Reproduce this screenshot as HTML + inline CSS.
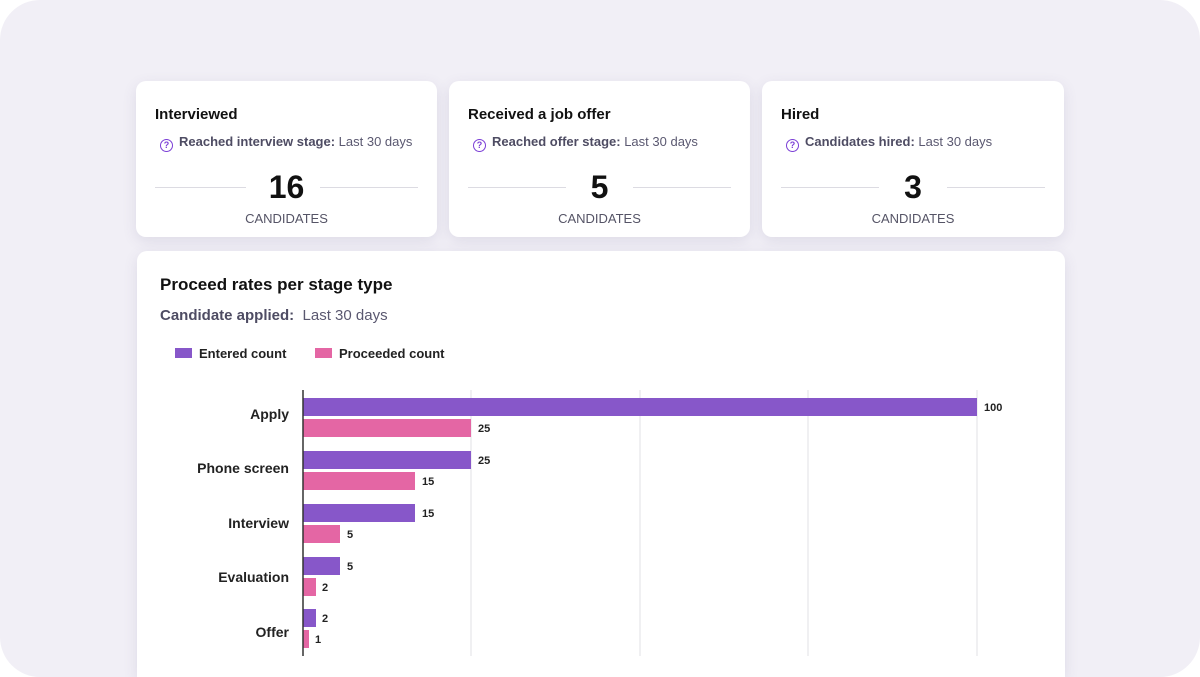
<!DOCTYPE html><html><head><style>
html,body{margin:0;width:1200px;height:677px;overflow:hidden}
body{background:#fff;font-family:"Liberation Sans",sans-serif}
.bg{position:absolute;left:0;top:0;width:1200px;height:677px;background:#f1eff6;border-radius:40px;overflow:hidden}
.card{position:absolute;background:#fff;border-radius:10px;box-shadow:0 4px 14px rgba(80,70,120,0.12)}
.t{position:absolute;left:19px;top:25px;font-size:15px;font-weight:bold;color:#111}
.s{position:absolute;left:24px;top:53px;font-size:13px;color:#5a5870;white-space:nowrap}
.s b{color:#4e4c63}
.q{display:inline-block;width:11px;height:11px;border:1.6px solid #7b3fd6;border-radius:50%;font-size:9px;line-height:11px;text-align:center;color:#7b3fd6;font-weight:bold;margin-right:6px;vertical-align:-2px}
.n{position:absolute;left:0;width:100%;top:88px;text-align:center;font-size:32px;font-weight:bold;color:#111}
.c{position:absolute;left:0;width:100%;top:130px;text-align:center;font-size:13px;color:#555466}
.l1,.l2{position:absolute;top:106px;height:1px;background:#dcdbe2;width:91px}
.l1{left:19px}.l2{right:19px;width:98px}
</style></head><body><div class="bg">
<div class="card" style="left:136px;top:81px;width:301px;height:156px"><div class="t">Interviewed</div><div class="s"><span class="q">?</span><b>Reached interview stage:</b> Last 30 days</div><div class="l1"></div><div class="l2"></div><div class="n">16</div><div class="c">CANDIDATES</div></div>
<div class="card" style="left:449px;top:81px;width:301px;height:156px"><div class="t">Received a job offer</div><div class="s"><span class="q">?</span><b>Reached offer stage:</b> Last 30 days</div><div class="l1" style="width:98px"></div><div class="l2"></div><div class="n">5</div><div class="c">CANDIDATES</div></div>
<div class="card" style="left:762px;top:81px;width:302px;height:156px"><div class="t">Hired</div><div class="s"><span class="q">?</span><b>Candidates hired:</b> Last 30 days</div><div class="l1" style="width:98px"></div><div class="l2"></div><div class="n">3</div><div class="c">CANDIDATES</div></div>
<div class="card" style="left:137px;top:251px;width:928px;height:426px;border-radius:10px 10px 0 0">
<div style="position:absolute;left:23px;top:24px;font-size:17px;font-weight:bold;color:#111">Proceed rates per stage type</div>
<div style="position:absolute;left:23px;top:56px;font-size:15px;color:#5a5870"><b style="color:#4e4c63">Candidate applied:</b>&nbsp; Last 30 days</div>
</div>
<svg style="position:absolute;left:0;top:0" width="1200" height="677" font-family="Liberation Sans, sans-serif">
<rect x="175" y="348" width="17" height="10" fill="#8757c9"/><text x="199" y="358" font-size="13" font-weight="bold" fill="#222">Entered count</text>
<rect x="315" y="348" width="17" height="10" fill="#e466a4"/><text x="339" y="358" font-size="13" font-weight="bold" fill="#222">Proceeded count</text>
<g stroke="#e2e1e6"><line x1="471" y1="390" x2="471" y2="656"/><line x1="640" y1="390" x2="640" y2="656"/><line x1="808" y1="390" x2="808" y2="656"/><line x1="977" y1="390" x2="977" y2="656"/></g>
<g font-size="11" font-weight="bold" fill="#222">
<rect x="303" y="398" width="674" height="18" fill="#8757c9"/><text x="984" y="411">100</text>
<rect x="303" y="419" width="168" height="18" fill="#e466a4"/><text x="478" y="432">25</text>
<rect x="303" y="451" width="168" height="18" fill="#8757c9"/><text x="478" y="464">25</text>
<rect x="303" y="472" width="112" height="18" fill="#e466a4"/><text x="422" y="485">15</text>
<rect x="303" y="504" width="112" height="18" fill="#8757c9"/><text x="422" y="517">15</text>
<rect x="303" y="525" width="37" height="18" fill="#e466a4"/><text x="347" y="538">5</text>
<rect x="303" y="557" width="37" height="18" fill="#8757c9"/><text x="347" y="570">5</text>
<rect x="303" y="578" width="13" height="18" fill="#e466a4"/><text x="322" y="591">2</text>
<rect x="303" y="609" width="13" height="18" fill="#8757c9"/><text x="322" y="622">2</text>
<rect x="303" y="630" width="6" height="18" fill="#e466a4"/><text x="315" y="643">1</text>
</g>
<line x1="303" y1="390" x2="303" y2="656" stroke="#333" stroke-width="1.5"/>
<g font-size="14" font-weight="bold" fill="#222" text-anchor="end">
<text x="289" y="419">Apply</text><text x="289" y="473">Phone screen</text><text x="289" y="528">Interview</text><text x="289" y="582">Evaluation</text><text x="289" y="637">Offer</text></g>
</svg>
</div></body></html>
